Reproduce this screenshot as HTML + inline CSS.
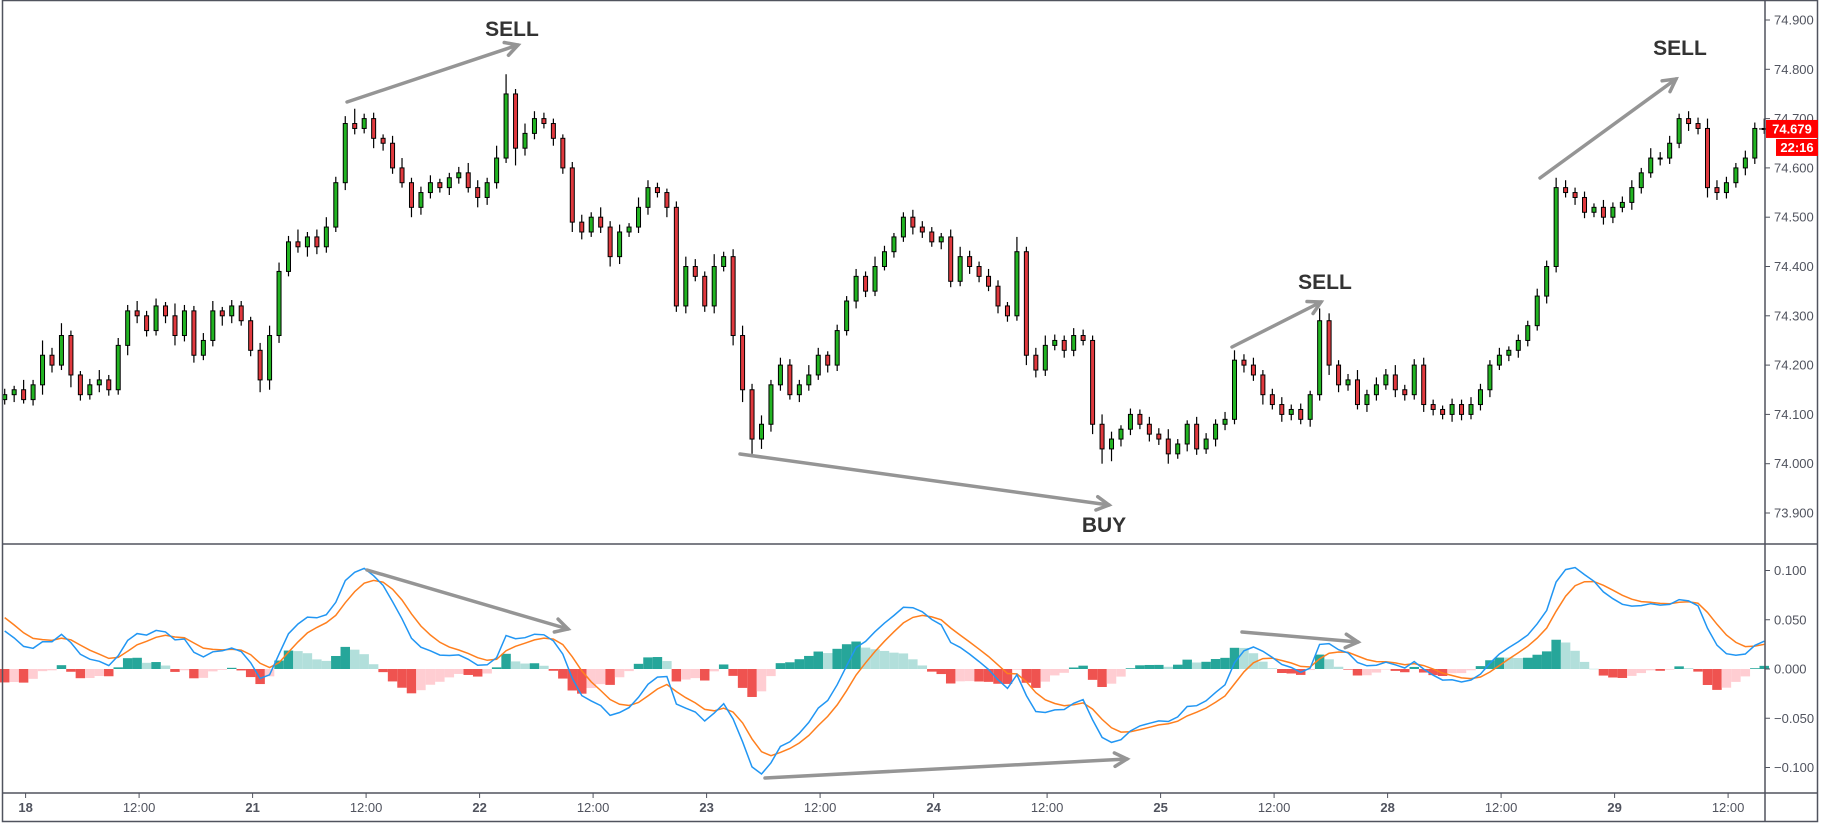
<!DOCTYPE html>
<html><head><meta charset="utf-8">
<style>
html,body{margin:0;padding:0;background:#fff;}
body{width:1825px;height:828px;overflow:hidden;font-family:"Liberation Sans",sans-serif;}
svg{display:block;}
</style></head>
<body>
<svg id="chart" width="1825" height="828" viewBox="0 0 1825 828" xmlns="http://www.w3.org/2000/svg">
<rect x="0" y="0" width="1825" height="828" fill="#fff"/>
<g id="grid"></g>
<g id="candles"></g>
<g id="hist"></g>
<g id="macdlines"></g>
<g id="axes"></g>
<g id="annot"></g>
</svg>
<script>
// ---- data ----
const closes = [74.14,74.15,74.13,74.16,74.22,74.20,74.26,74.18,74.14,74.16,74.17,74.15,74.24,74.31,74.30,74.27,74.32,74.30,74.26,74.31,
74.22,74.25,74.31,74.30,74.32,74.29,74.23,74.17,74.26,74.39,74.45,74.44,74.46,74.44,74.48,74.57,74.69,74.68,74.70,74.66,
74.65,74.60,74.57,74.52,74.55,74.57,74.56,74.58,74.59,74.56,74.54,74.57,74.62,74.75,74.64,74.67,74.70,74.69,74.66,74.60,
74.49,74.47,74.50,74.48,74.42,74.47,74.48,74.52,74.56,74.55,74.52,74.32,74.40,74.38,74.32,74.40,74.42,74.26,74.15,74.05,
74.08,74.16,74.20,74.14,74.16,74.18,74.22,74.20,74.27,74.33,74.38,74.35,74.40,74.43,74.46,74.50,74.48,74.47,74.45,74.46,
74.37,74.42,74.40,74.38,74.36,74.32,74.30,74.43,74.22,74.19,74.24,74.25,74.23,74.26,74.25,74.08,74.03,74.05,74.07,74.10,
74.08,74.06,74.05,74.02,74.04,74.08,74.03,74.05,74.08,74.09,74.21,74.20,74.18,74.14,74.12,74.10,74.11,74.09,74.14,74.29,
74.20,74.16,74.17,74.12,74.14,74.16,74.18,74.15,74.14,74.20,74.12,74.11,74.10,74.12,74.10,74.12,74.15,74.20,74.22,74.23,
74.25,74.28,74.34,74.40,74.56,74.55,74.54,74.51,74.52,74.50,74.52,74.53,74.56,74.59,74.62,74.62,74.65,74.70,74.69,74.68,
74.56,74.55,74.57,74.60,74.62,74.68,74.679];
const wickUp = [12,8,20,10,30,15,25,10,8,12,20,10,15,12,20,10,15,8,25,12,10,15,20,8,12,10,8,15,20,18,12,25,10,15,20,12,15,30,10,12,
8,15,20,10,12,15,8,10,12,20,15,10,25,40,10,20,15,12,10,8,12,15,10,20,12,15,8,20,15,10,8,12,20,15,10,25,10,15,20,12,
18,10,15,12,10,20,15,8,12,10,15,10,20,12,8,10,15,12,10,8,15,20,12,10,15,12,8,30,10,15,20,12,10,15,12,10,20,15,8,12,
10,15,12,20,10,8,15,12,10,15,20,12,15,10,12,15,10,12,8,25,15,10,12,20,10,15,12,20,10,12,15,10,8,12,10,15,12,10,15,8,
12,10,15,12,20,15,10,12,8,15,10,12,15,10,20,12,15,10,15,12,20,15,12,10,15,12,20];
const wickDn = [10,15,8,12,20,15,10,25,12,10,15,12,10,20,15,12,10,15,20,12,15,10,12,20,15,10,12,25,20,15,10,12,20,15,12,10,15,12,10,20,
15,12,10,20,15,12,10,15,12,10,20,15,12,10,35,15,12,10,15,12,20,15,10,12,20,15,10,12,15,10,20,12,15,10,12,15,10,20,25,30,
20,15,12,10,15,12,10,15,12,10,15,12,10,8,12,10,15,12,10,15,12,10,15,12,10,15,12,10,20,15,12,10,15,12,10,20,30,25,15,12,
10,15,12,20,10,15,12,10,15,12,10,15,12,20,10,15,12,10,15,12,20,15,12,10,15,12,10,15,12,10,15,12,10,15,12,10,12,15,10,12,
15,12,10,15,12,10,15,12,10,15,12,10,15,12,10,15,12,10,15,12,20,15,12,10,15,12,10];
const priceTicks = ["74.900","74.800","74.700","74.600","74.500","74.400","74.300","74.200","74.100","74.000","73.900"];
const macdTicks = ["0.100","0.050","0.000","\u22120.050","\u22120.100"];
const macdTickVals = [0.1,0.05,0,-0.05,-0.1];
const timeLabels = ["18","12:00","21","12:00","22","12:00","23","12:00","24","12:00","25","12:00","28","12:00","29","12:00"];
const timeBold = [1,0,1,0,1,0,1,0,1,0,1,0,1,0,1,0];
const emaSeed = [74.17, 74.12, 0.06]; // fast, slow, signal seeds
const macdPeriods = [6, 13, 4.5];

// ---- scales ----
const NS="http://www.w3.org/2000/svg";
const PLOT_R=1765;
const xOf = i => 4.7 + i*9.46;
const yP = p => 20 + (74.9 - p)*493;
const yM = v => 669 - v*985;
function mk(tag, attrs, parent){const e=document.createElementNS(NS,tag);for(const k in attrs)e.setAttribute(k,attrs[k]);parent.appendChild(e);return e;}

// candles
const cg=document.getElementById('candles');
for(let i=0;i<closes.length;i++){
  const o = i===0 ? closes[0]-0.01 : closes[i-1];
  const c = closes[i];
  const hi = Math.max(o,c)+wickUp[i]/1000, lo = Math.min(o,c)-wickDn[i]/1000;
  const x = xOf(i), up = c>=o;
  const g = mk('g',{},cg);
  
  
  mk('line',{x1:x,x2:x,y1:yP(hi),y2:yP(lo),stroke:'#000','stroke-width':1.2},g);
  const top=yP(Math.max(o,c)), bot=yP(Math.min(o,c));
  mk('rect',{x:x-2,y:top,width:4,height:Math.max(1,bot-top),fill:up?'#22b422':'#e0393e',stroke:'#000','stroke-width':1},g);
}

// macd computed from closes
const kF=2/(macdPeriods[0]+1),kS=2/(macdPeriods[1]+1),kG=2/(macdPeriods[2]+1);
let ef=emaSeed[0], es=emaSeed[1], sig=emaSeed[2];
const macd=[], signal=[];
for(let i=0;i<closes.length;i++){
  ef = ef + kF*(closes[i]-ef); es = es + kS*(closes[i]-es);
  const m = ef-es; sig = sig + kG*(m-sig);
  macd.push(m); signal.push(sig);
}
const hg=document.getElementById('hist');
let prevH=0;
for(let i=0;i<closes.length;i++){
  const h=macd[i]-signal[i];
  let col;
  if(h>=0) col = h>=prevH ? '#26a69a' : '#b2dfdb';
  else col = h<=prevH ? '#ef5350' : '#ffcdd2';
  prevH=h;
  const y0=yM(0), y1=yM(h);
  const r=mk('rect',{x:xOf(i)-4.73,y:Math.min(y0,y1),width:9.46,height:Math.max(0.5,Math.abs(y1-y0)),fill:col},hg);
  
  
}
const lg=document.getElementById('macdlines');
function poly(arr,color,name){
  const p=mk('polyline',{points:arr.map((v,i)=>xOf(i).toFixed(1)+','+yM(v).toFixed(1)).join(' '),fill:'none',stroke:color,'stroke-width':1.5},lg);
  
  
}
poly(signal,'#ff7f1e','signal-line');
poly(macd,'#2196f3','macd-line');

// axes
const ax=document.getElementById('axes');
mk('rect',{x:2.5,y:0.5,width:1815,height:821,fill:'none',stroke:'#50535e','stroke-width':1.5},ax);
mk('line',{x1:PLOT_R,x2:PLOT_R,y1:0,y2:822,stroke:'#50535e','stroke-width':1.5},ax);
mk('line',{x1:2,x2:1818,y1:544,y2:544,stroke:'#50535e','stroke-width':1.5},ax);
mk('line',{x1:2,x2:1818,y1:793,y2:793,stroke:'#50535e','stroke-width':1.5},ax);
priceTicks.forEach((t,i)=>{
  const y=yP(parseFloat(t));
  mk('line',{x1:PLOT_R,x2:PLOT_R+5,y1:y,y2:y,stroke:'#50535e'},ax);
  const tx=mk('text',{x:1774,y:y+4.5,'font-size':13,fill:'#50535e'},ax);
  tx.textContent=t;
  
  
});
macdTicks.forEach((t,i)=>{
  const y=yM(macdTickVals[i]);
  mk('line',{x1:PLOT_R,x2:PLOT_R+5,y1:y,y2:y,stroke:'#50535e'},ax);
  const tx=mk('text',{x:1774,y:y+4.5,'font-size':13,fill:'#50535e'},ax);
  tx.textContent=t;
  
  
});
timeLabels.forEach((t,i)=>{
  const x=25.6+i*113.5;
  mk('line',{x1:x,x2:x,y1:793,y2:798,stroke:'#50535e'},ax);
  const tx=mk('text',{x:x,y:812,'font-size':13,fill:'#50535e','text-anchor':'middle','font-weight':timeBold[i]?'bold':'normal'},ax);
  tx.textContent=t;
  
  
});
// last price tags
const lp=closes[closes.length-1];
const ly=yP(lp);
mk('line',{x1:PLOT_R-6,x2:PLOT_R,y1:ly,y2:ly,stroke:'#000'},ax);
const pb=mk('rect',{x:1766,y:ly-9,width:52,height:18,fill:'#ff0000'},ax);


const pt=mk('text',{x:1792,y:ly+4.5,'font-size':13,'font-weight':'bold',fill:'#fff','text-anchor':'middle'},ax);
pt.textContent=lp.toFixed(3);
const cb=mk('rect',{x:1776,y:ly+10,width:42,height:17,fill:'#ff0000'},ax);


const ct=mk('text',{x:1797,y:ly+23,'font-size':13,'font-weight':'bold',fill:'#fff','text-anchor':'middle'},ax);
ct.textContent='22:16';

// annotations
const an=document.getElementById('annot');
function arrow(x1,y1,x2,y2,name){
  const g=mk('g',{},an);
  
  
  mk('line',{x1,y1,x2,y2,stroke:'#959595','stroke-width':3.5,'stroke-linecap':'round'},g);
  const a=Math.atan2(y2-y1,x2-x1), L=14, s=0.5;
  mk('polyline',{points:`${x2-L*Math.cos(a-s)},${y2-L*Math.sin(a-s)} ${x2},${y2} ${x2-L*Math.cos(a+s)},${y2-L*Math.sin(a+s)}`,fill:'none',stroke:'#959595','stroke-width':3.5,'stroke-linecap':'round'},g);
}
function label(x,y,t,name){
  const e=mk('text',{x,y,'font-size':21,'font-weight':'bold',fill:'#333','text-anchor':'middle'},an);
  e.textContent=t;
  
  
}
arrow(347,102,518,45,'sell-arrow-1'); label(512,36,'SELL','sell-label-1');
arrow(740,454,1109,505,'buy-arrow'); label(1104,532,'BUY','buy-label');
arrow(1232,347,1321,302,'sell-arrow-2'); label(1325,289,'SELL','sell-label-2');
arrow(1540,178,1676,79,'sell-arrow-3'); label(1680,55,'SELL','sell-label-3');
arrow(367,570,568,629,'macd-divergence-arrow-1');
arrow(765,778,1127,759,'macd-divergence-arrow-2');
arrow(1242,632,1358,642,'macd-divergence-arrow-3');
</script>
</body></html>
